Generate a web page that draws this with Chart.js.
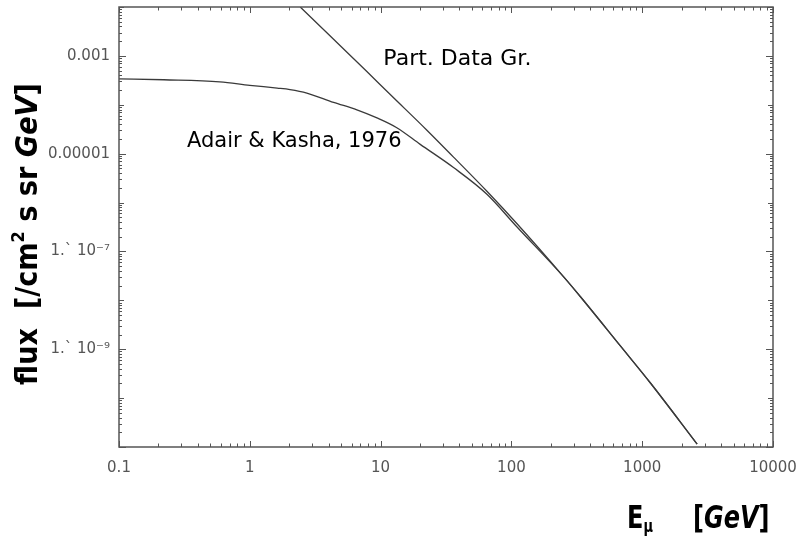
<!DOCTYPE html>
<html>
<head>
<meta charset="utf-8">
<script src="https://cdn.jsdelivr.net/npm/chart.js@4.4.0/dist/chart.umd.min.js"></script>
<style>
  body { margin: 0; background: #fff; }
</style>
</head>
<body>
<canvas id="flux_chart" width="799" height="536"></canvas>
<script>
// muon energy [GeV] and flux [/cm2 s sr GeV]
var pdg_energy = [2.43, 4.37, 7.85, 11.8, 22.6, 36.1, 65, 110, 251, 336, 681, 1156, 2630];
var pdg_flux = [1.0e-2, 2.19e-3, 4.79e-4, 1.64e-4, 3.02e-5, 8.5e-6, 1.70e-6, 3.72e-7, 3.02e-8, 1.20e-8, 1.17e-9, 2.04e-10, 1.15e-11];

var ak_energy = [0.1, 0.22, 0.59, 1, 1.62, 2.03, 2.73, 4.37, 6.59, 9.38, 13.3, 20.1, 36.1, 65, 110, 251, 336, 681, 1156, 2630];
var ak_flux = [3.4e-4, 3.25e-4, 2.95e-4, 2.5e-4, 2.2e-4, 2.05e-4, 1.74e-4, 1.12e-4, 7.9e-5, 5.4e-5, 3.4e-5, 1.55e-5, 5.2e-6, 1.48e-6, 3.2e-7, 3.02e-8, 1.20e-8, 1.17e-9, 2.04e-10, 1.15e-11];

var x_ticks = [0.1, 1, 10, 100, 1000, 10000];
var x_tick_labels = ['0.1', '1', '10', '100', '1000', '10000'];
var y_ticks = [1e-3, 1e-5, 1e-7, 1e-9];
var y_tick_labels = ['0.001', '0.00001', '1.` 10⁻⁷', '1.` 10⁻⁹'];

function toPoints(xs, ys) {
  return xs.map(function (x, i) { return {x: x, y: ys[i]}; });
}

var frameColor = '#555';
var lineColor = '#3a3a3a';

// draw a list of text pieces one after the other, returns total width
function drawRuns(ctx, runs, doDraw) {
  var x = 0;
  runs.forEach(function (r) {
    ctx.font = r.font;
    if (r.at !== undefined) x = r.at;
    if (doDraw) ctx.fillText(r.text, x, r.dy || 0);
    x += ctx.measureText(r.text).width;
  });
  return x;
}

// mathematica style frame: box with inward ticks on all four sides
const framePlugin = {
  id: 'frame',
  afterDraw: function (chart) {
    const ctx = chart.ctx, a = chart.chartArea;
    const xs = chart.scales.x, ys = chart.scales.y;
    ctx.save();
    ctx.strokeStyle = frameColor;
    ctx.lineWidth = 1;
    ctx.beginPath();
    for (let k = -1; k <= 4; k++) {
      for (let j = 1; j <= 9; j++) {
        const v = j * Math.pow(10, k);
        if (v < 0.0999 || v > 10001) continue;
        const px = Math.round(xs.getPixelForValue(v)) + 0.5;
        const len = j === 1 ? 6 : 3.5;
        ctx.moveTo(px, a.bottom); ctx.lineTo(px, a.bottom - len);
        ctx.moveTo(px, a.top); ctx.lineTo(px, a.top + len);
      }
    }
    for (let k = -11; k <= -2; k++) {
      for (let j = 1; j <= 9; j++) {
        const v = j * Math.pow(10, k);
        if (v < 0.999e-11 || v > 1.001e-2) continue;
        const py = Math.round(ys.getPixelForValue(v)) + 0.5;
        let len = 3;
        if (j === 1) len = (k % 2 !== 0) ? 7 : 5;
        ctx.moveTo(a.left, py); ctx.lineTo(a.left + len, py);
        ctx.moveTo(a.right, py); ctx.lineTo(a.right - len, py);
      }
    }
    ctx.stroke();
    ctx.lineWidth = 1.5;
    ctx.strokeRect(a.left, a.top, a.right - a.left, a.bottom - a.top);
    ctx.restore();
  }
};

// curve names and the two axis titles
const textPlugin = {
  id: 'texts',
  afterDraw: function (chart) {
    const ctx = chart.ctx;
    const xs = chart.scales.x, ys = chart.scales.y;
    ctx.save();
    ctx.fillStyle = '#000';
    ctx.textBaseline = 'alphabetic';
    ctx.textAlign = 'left';

    // curve labels
    var labels = [
      {text: 'Part. Data Gr.', x: 10.5, y: 6.6e-4, size: 22},
      {text: 'Adair & Kasha, 1976', x: 0.331, y: 1.35e-5, size: 21}
    ];
    labels.forEach(function (l) {
      ctx.font = l.size + 'px "DejaVu Sans"';
      ctx.fillText(l.text, xs.getPixelForValue(l.x), ys.getPixelForValue(l.y));
    });

    // y title, rotated
    var bold = 'bold 27px "DejaVu Sans"';
    var yRuns = [
      {text: 'flux  [/cm', font: bold},
      {text: '2', font: 'bold 16px "DejaVu Sans"', dy: -12},
      {text: ' s sr ', font: bold},
      {text: 'GeV', font: 'italic bold 27px "DejaVu Sans"'},
      {text: ']', font: bold}
    ];
    var w = drawRuns(ctx, yRuns, false);
    ctx.save();
    ctx.translate(37, 385);
    ctx.rotate(-Math.PI / 2);
    ctx.scale(302 / w, 1.1);
    drawRuns(ctx, yRuns, true);
    ctx.restore();

    // x title
    var xb = 'bold 24px "DejaVu Sans"';
    var xRuns = [
      {text: 'E', font: xb},
      {text: 'μ', font: 'bold 13px "DejaVu Sans"', dy: 3},
      {text: '[', font: xb, at: 66},
      {text: 'GeV', font: 'italic bold 24px "DejaVu Sans"'},
      {text: ']', font: xb}
    ];
    ctx.save();
    ctx.translate(627, 528);
    ctx.scale(1, 1.35);
    drawRuns(ctx, xRuns, true);
    ctx.restore();

    ctx.restore();
  }
};

const data = {
  datasets: [{
    label: 'Part. Data Gr.',
    data: toPoints(pdg_energy, pdg_flux),
    showLine: true,
    borderColor: lineColor,
    borderWidth: 1.3,
    pointRadius: 0,
    cubicInterpolationMode: 'monotone'
  }, {
    label: 'Adair & Kasha, 1976',
    data: toPoints(ak_energy, ak_flux),
    showLine: true,
    borderColor: lineColor,
    borderWidth: 1.3,
    pointRadius: 0,
    cubicInterpolationMode: 'monotone'
  }]
};

const tickFont = {family: '"DejaVu Sans"', size: 15};

function noPad(s) {
  s.paddingLeft = 0; s.paddingRight = 0; s.paddingTop = 0; s.paddingBottom = 0;
}

const config = {
  type: 'scatter',
  data: data,
  options: {
    responsive: false,
    animation: false,
    layout: {padding: {top: 7, right: 26, left: 0, bottom: 0}},
    plugins: {
      legend: {display: false},
      tooltip: {enabled: false}
    },
    scales: {
      x: {
        type: 'logarithmic',
        min: 0.1,
        max: 10000,
        grid: {display: false, drawTicks: false},
        border: {display: false},
        afterBuildTicks: function (s) { s.ticks = x_ticks.map(function (v) { return {value: v}; }); },
        afterFit: function (s) { s.height = 89; noPad(s); },
        ticks: {
          padding: 12,
          color: '#555',
          font: tickFont,
          autoSkip: false,
          maxRotation: 0,
          callback: function (v, i) { return x_tick_labels[i]; }
        }
      },
      y: {
        type: 'logarithmic',
        min: 1e-11,
        max: 1e-2,
        grid: {display: false, drawTicks: false},
        border: {display: false},
        afterBuildTicks: function (s) { s.ticks = y_ticks.map(function (v) { return {value: v}; }); },
        afterFit: function (s) { s.width = 119; noPad(s); },
        ticks: {
          padding: 9,
          color: '#555',
          font: tickFont,
          autoSkip: false,
          callback: function (v, i) { return y_tick_labels[i]; }
        }
      }
    }
  },
  plugins: [framePlugin, textPlugin]
};

const fluxChart = new Chart(document.getElementById('flux_chart'), config);
</script>
</body>
</html>
